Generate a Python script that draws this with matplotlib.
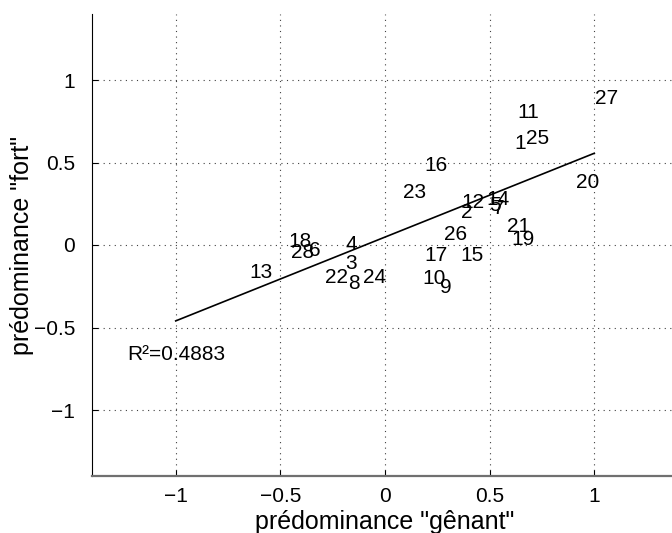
import matplotlib
matplotlib.use('Agg')
import matplotlib.pyplot as plt
import numpy as np

plt.rcParams['font.family'] = ['Liberation Sans', 'DejaVu Sans']

# point labels and their (x, y) positions
labels = ['1', '2', '3', '4', '5', '6', '7', '8', '9', '10', '11', '12', '13', '14',
          '15', '16', '17', '18', '19', '20', '21', '22', '23', '24', '25', '26', '27', '28']
x_gen = [0.62, 0.362, -0.19, -0.187, 0.50, -0.363, 0.517, -0.178, 0.264, 0.178,
         0.632, 0.363, -0.65, 0.485, 0.358, 0.19, 0.187, -0.46, 0.602, 0.915,
         0.585, -0.287, 0.084, -0.105, 0.673, 0.284, 1.004, -0.45]
y_fort = [0.616, 0.194, -0.115, 0.004, 0.24, -0.031, 0.22, -0.233, -0.26, -0.206,
          0.80, 0.255, -0.167, 0.276, -0.064, 0.484, -0.064, 0.02, 0.033, 0.381,
          0.111, -0.198, 0.321, -0.198, 0.643, 0.066, 0.89, -0.047]

# regression line
fit_x = [-1, 1]
fit_y = [-0.46, 0.556]
r2_text = 'R²=0.4883'

ticks = [-1, -0.5, 0, 0.5, 1]
tick_labels = ['\u22121', '\u22120.5', '0', '0.5', '1']

fig = plt.figure(figsize=(6.72, 5.33), dpi=100)
ax = fig.add_axes([92 / 672, 57 / 533, 586 / 672, 462 / 533])

ax.plot(fit_x, fit_y, 'k-', lw=1.2)
for lab, x, y in zip(labels, x_gen, y_fort):
    ax.text(x, y, lab, fontsize=15, ha='left', va='center')
ax.text(-1.233, -0.665, r2_text, fontsize=15, ha='left', va='center')

ax.set_xlim(-1.4, 1.4)
ax.set_ylim(-1.4, 1.4)
ax.set_xticks(ticks)
ax.set_xticklabels(tick_labels)
ax.set_yticks(ticks)
ax.set_yticklabels(tick_labels)
ax.grid(True, linestyle=(0, (1, 4)), color='#404040', lw=0.8)
ax.tick_params(direction='in', length=4, labelsize=15, pad=8)
ax.tick_params(axis='y', pad=12)

ax.spines['top'].set_visible(False)
ax.spines['right'].set_visible(False)
ax.spines['bottom'].set_color('#707070')
ax.spines['bottom'].set_linewidth(1.6)

ax.set_xlabel('prédominance "gênant"', fontsize=18, labelpad=2.5)
ax.set_ylabel('prédominance "fort"', fontsize=18)
ax.yaxis.set_label_coords((34 - 92) / 586, 0.5)

fig.savefig('out.png', dpi=100)
